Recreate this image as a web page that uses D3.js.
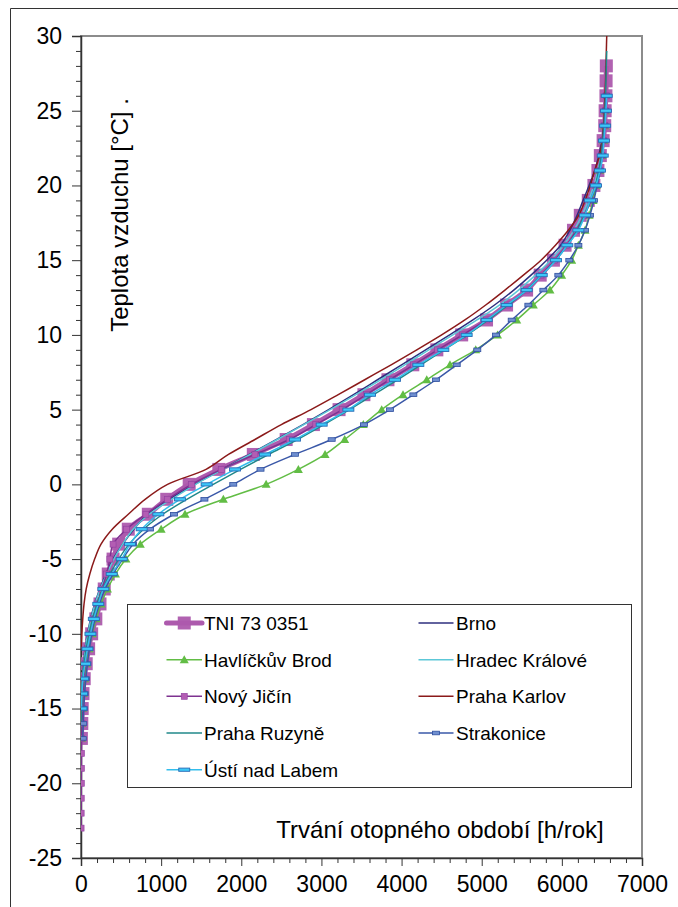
<!DOCTYPE html>
<html><head><meta charset="utf-8">
<script src="https://cdn.jsdelivr.net/npm/d3@7"></script>
<style>
html,body{margin:0;padding:0;background:#fff;}
text{font-family:"Liberation Sans",Arial,sans-serif;fill:#000;}
</style></head>
<body><svg id="c" width="678" height="907"></svg>
<script>
// Temperature categories (°C)
const temps = [-23,-22,-21,-20,-19,-18,-17,-16,-15,-14,-13,-12,-11,-10,-9,-8,-7,-6,-5,-4,-3,-2,-1,0,1,2,3,4,5,6,7,8,9,10,11,12,13,14,15,16,17,18,19,20,21,22,23,24,25,26,27,28,29,30];
// Hours per year (cumulative duration) at each temperature; null = no value
const tni = [null,null,null,null,null,null,5,10,15,25,40,65,95,133,185,237,290,340,400,470,590,840,1070,1350,1720,2150,2560,2900,3220,3530,3830,4140,4440,4750,5060,5310,5560,5730,5895,6040,6145,6230,6330,6400,6450,6480,6515,6535,6540,6550,6552,6555,null,null];
const brno = [null,null,null,null,null,null,null,2,5,10,18,30,50,80,120,170,235,310,400,520,660,830,1100,1420,1760,2100,2440,2770,3090,3400,3700,4000,4300,4600,4890,5160,5400,5615,5810,5985,6100,6190,6265,6340,6410,6460,6500,6525,6540,6548,null,null,null,null];
const havlickuvBrod = [null,null,null,null,null,null,5,10,18,30,45,70,100,140,190,250,330,430,560,740,1000,1298,1776,2310,2712,3045,3290,3523,3752,4018,4314,4604,4925,5197,5437,5644,5852,5998,6123,6206,6289,6340,6390,6430,6470,6500,6520,6535,6545,null,null,null,null,null];
const hradecKralove = [null,null,null,null,null,null,null,2,5,10,20,35,55,85,125,175,240,320,410,520,650,850,1130,1430,1770,2110,2450,2780,3110,3430,3740,4040,4340,4640,4940,5220,5460,5670,5860,6020,6150,6250,6330,6400,6450,6490,6515,6530,6540,6550,null,null,null,null];
const novyJicin = [1,2,3,4,5,6,8,12,18,26,38,55,80,110,150,200,260,320,360,400,570,810,1080,1380,1750,2170,2600,2930,3260,3560,3850,4150,4450,4760,5060,5320,5560,5740,5910,6060,6180,6280,6360,6420,6470,6500,6520,6535,6545,6555,null,null,null,null];
const prahaKarlov = [null,null,null,null,null,null,null,null,null,null,null,null,3,10,22,38,65,110,170,250,390,590,800,1080,1560,1840,2170,2500,2870,3210,3540,3870,4190,4500,4790,5050,5290,5520,5740,5920,6080,6210,6290,6355,6410,6470,6505,6520,6530,6538,6545,6550,6555,6560];
const prahaRuzyne = [null,null,null,null,null,null,null,3,6,12,22,40,65,100,145,200,270,360,470,600,780,1020,1320,1650,1990,2340,2700,3030,3350,3650,3950,4240,4530,4820,5080,5330,5560,5750,5920,6070,6190,6280,6360,6420,6460,6490,6510,6525,6535,6545,6550,6555,6560,null];
const strakonice = [null,null,null,null,null,null,22,28,35,45,60,80,105,135,175,230,300,400,520,650,861,1160,1540,1900,2240,2670,3128,3531,3856,4147,4430,4688,4945,5178,5374,5582,5769,5956,6093,6206,6289,6351,6400,6440,6480,6505,6520,6535,6545,6555,null,null,null,null];
const ustiNadLabem = [null,null,null,null,null,null,null,null,5,12,25,50,80,118,160,216,279,383,508,611,757,965,1235,1568,1922,2296,2670,3003,3336,3606,3918,4209,4521,4812,5062,5312,5561,5749,5927,6068,6206,6289,6351,6426,6476,6510,6525,6540,6550,6560,null,null,null,null];

const xMajorTicks = [0,1000,2000,3000,4000,5000,6000,7000];
const yMajorTicks = [-25,-20,-15,-10,-5,0,5,10,15,20,25,30];
const xMinorTicks = [200,400,600,800,1200,1400,1600,1800,2200,2400,2600,2800,3200,3400,3600,3800,4200,4400,4600,4800,5200,5400,5600,5800,6200,6400,6600,6800];
const yMinorTicks = [-24,-23,-22,-21,-19,-18,-17,-16,-14,-13,-12,-11,-9,-8,-7,-6,-4,-3,-2,-1,1,2,3,4,6,7,8,9,11,12,13,14,16,17,18,19,21,22,23,24,26,27,28,29];

const series = [
  {name:"TNI 73 0351", values:tni, color:"#ad5aad", width:5, marker:"bigsquare"},
  {name:"Brno", values:brno, color:"#2e2f7e", width:1.5, marker:null},
  {name:"Havlíčkův Brod", values:havlickuvBrod, color:"#62bd45", width:1.5, marker:"triangle"},
  {name:"Hradec Králové", values:hradecKralove, color:"#5cc8d8", width:1.5, marker:null},
  {name:"Nový Jičín", values:novyJicin, color:"#7e3290", width:1.5, marker:"square"},
  {name:"Praha Karlov", values:prahaKarlov, color:"#8b1a1a", width:1.5, marker:null},
  {name:"Praha Ruzyně", values:prahaRuzyne, color:"#20888a", width:1.5, marker:null},
  {name:"Strakonice", values:strakonice, color:"#3a58a8", width:1.5, marker:"smallrect"},
  {name:"Ústí nad Labem", values:ustiNadLabem, color:"#33bdec", width:1.5, marker:"dash"}
];

const svg = d3.select("#c");
const L=81, R=642, T=36, B=858;
const x = d3.scaleLinear().domain([0,7000]).range([L,R]);
const y = d3.scaleLinear().domain([-25,30]).range([B,T]);

// outer frame (left & top visible)
svg.append("line").attr("x1",10.5).attr("x2",10.5).attr("y1",8.5).attr("y2",907).attr("stroke","#333");
svg.append("line").attr("x1",10.5).attr("x2",678).attr("y1",8.5).attr("y2",8.5).attr("stroke","#333");

// plot area border (gray)
svg.append("rect").attr("x",L).attr("y",T).attr("width",R-L).attr("height",B-T)
  .attr("fill","none").attr("stroke","#8c8c8c").attr("stroke-width",2);

svg.append("defs").append("clipPath").attr("id","clip")
  .append("rect").attr("x",L).attr("y",T).attr("width",R-L).attr("height",B-T);

const fontTick = "23px";
// axes
svg.append("g").attr("transform",`translate(0,${B})`)
  .call(d3.axisBottom(x).tickValues(xMajorTicks).tickSize(8).tickPadding(10).tickFormat(d3.format("d")));
svg.append("g").attr("transform",`translate(0,${B})`)
  .call(d3.axisBottom(x).tickValues(xMinorTicks).tickSize(5).tickFormat(""))
  .select(".domain").remove();
const yAxis = svg.append("g").attr("transform",`translate(${L},0)`)
  .call(d3.axisLeft(y).tickValues(yMajorTicks).tickSize(9).tickPadding(10).tickFormat(d3.format("d")));
svg.append("g").attr("transform",`translate(${L},0)`)
  .call(d3.axisLeft(y).tickValues(yMinorTicks).tickSize(5).tickFormat(""))
  .select(".domain").remove();
svg.selectAll(".tick text").attr("font-size",fontTick).attr("font-family","'Liberation Sans',Arial,sans-serif").attr("fill","#000");
svg.selectAll(".tick line").attr("stroke","#333");
svg.selectAll(".domain").attr("stroke","#333").attr("stroke-width",1.5);
yAxis.selectAll(".tick text").text(d => String(d));

// titles
svg.append("text").attr("transform","translate(128,215) rotate(-90)").attr("text-anchor","middle")
  .attr("font-size","24px").text("Teplota vzduchu [°C] .");
svg.append("text").attr("x",440).attr("y",838).attr("text-anchor","middle")
  .attr("font-size","24px").text("Trvání otopného období [h/rok]");

// series
const line = d3.line().defined(d=>d.h!=null).x(d=>x(d.h)).y(d=>y(d.t)).curve(d3.curveCatmullRom.alpha(0.5));
const plot = svg.append("g").attr("clip-path","url(#clip)");

function drawMarker(g, type, color, cx, cy){
  if(type==="bigsquare"){
    g.append("rect").attr("x",cx-6.5).attr("y",cy-6.5).attr("width",13).attr("height",13).attr("fill",color).attr("opacity",0.95);
  } else if(type==="square"){
    g.append("rect").attr("x",cx-3).attr("y",cy-3).attr("width",6).attr("height",6).attr("fill","#b35db3").attr("stroke","#8e3e9e").attr("stroke-width",0.6);
  } else if(type==="triangle"){
    g.append("path").attr("d",`M${cx},${cy-4.5}L${cx+4.5},${cy+3.5}L${cx-4.5},${cy+3.5}Z`).attr("fill","#62bd45");
  } else if(type==="smallrect"){
    g.append("rect").attr("x",cx-3.5).attr("y",cy-1.8).attr("width",7).attr("height",3.6).attr("fill","#6f8fd0").attr("stroke","#2f4f9f").attr("stroke-width",0.8);
  } else if(type==="dash"){
    g.append("rect").attr("x",cx-5.5).attr("y",cy-1.6).attr("width",11).attr("height",3.2).attr("fill","#3cc8f8").attr("stroke","#2a6ab5").attr("stroke-width",0.9);
  }
}

series.forEach(s=>{
  const pts = temps.map((t,i)=>({t:t,h:s.values[i]}));
  const valid = pts.filter(p=>p.h!=null);
  plot.append("path").datum(valid).attr("d",line).attr("fill","none")
    .attr("stroke",s.color).attr("stroke-width",s.width).attr("stroke-linejoin","round");
  if(s.marker){
    const g = plot.append("g");
    valid.forEach(p=>drawMarker(g,s.marker,s.color,x(p.h),y(p.t)));
  }
});

// legend
const lg = svg.append("g");
lg.append("rect").attr("x",127.5).attr("y",604.5).attr("width",504).attr("height",183).attr("fill","#fff").attr("stroke","#333");
const rowY = [623,659.7,696.3,733,769.7];
series.forEach((s,i)=>{
  const col = i%2, row = Math.floor(i/2);
  const x0 = col===0 ? 166.5 : 418.5, x1 = col===0 ? 202 : 453.5;
  const cy = rowY[row];
  lg.append("line").attr("x1",x0).attr("x2",x1).attr("y1",cy).attr("y2",cy)
    .attr("stroke",s.color).attr("stroke-width",s.width).attr("stroke-linecap", s.width>3?"round":"butt");
  if(s.marker){
    const g = lg.append("g");
    drawMarker(g, s.marker, s.color, (x0+x1)/2, cy);
  }
  lg.append("text").attr("x", col===0?204:456).attr("y",cy+6.8).attr("font-size","19px").text(s.name);
});
</script></body></html>
